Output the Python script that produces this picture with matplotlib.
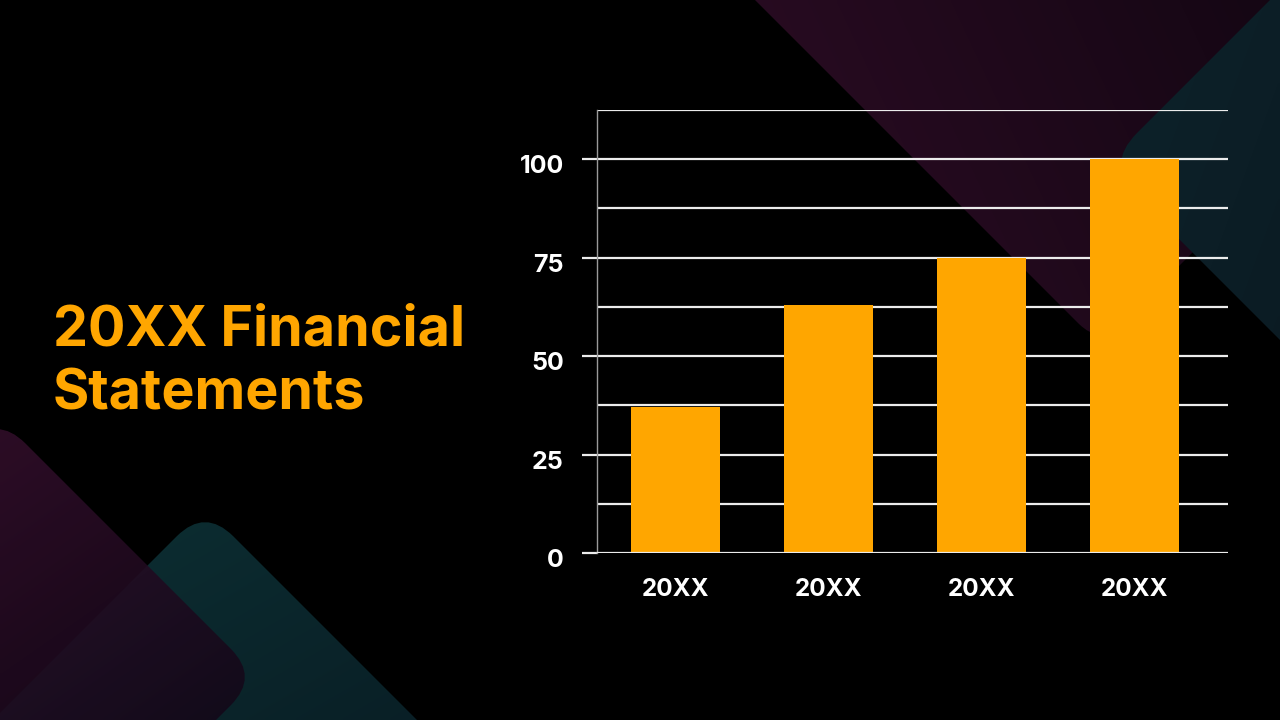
import numpy as np
import matplotlib
matplotlib.use("Agg")
import matplotlib.pyplot as plt
from matplotlib.patches import FancyBboxPatch
from matplotlib.transforms import Affine2D, ScaledTranslation

# data
years = ["20XX", "20XX", "20XX", "20XX"]
values = [37, 63, 75, 100]
yticks = [0, 25, 50, 75, 100]
title_lines = ["20XX Financial", "Statements"]

ORANGE = "#FFA600"
W, H = 1280, 720

plt.rcParams["font.family"] = ["Inter", "DejaVu Sans"]
plt.rcParams["font.weight"] = "bold"

fig = plt.figure(figsize=(12.8, 7.2), dpi=100, facecolor="black")

# background decorations
bg = fig.add_axes([0, 0, 1, 1], zorder=0)
bg.set_xlim(0, W)
bg.set_ylim(H, 0)
bg.axis("off")
bg.set_facecolor("black")


def diamond(ax, cx, cy, R, r, c1, c2, angle, alpha=1.0):
    s = R * np.sqrt(2)
    p = FancyBboxPatch((-s / 2, -s / 2), s, s,
                       boxstyle="round,pad=0,rounding_size=%f" % r,
                       fc="none", ec="none",
                       transform=Affine2D().rotate_deg(45).translate(cx, cy) + ax.transData)
    ax.add_patch(p)
    # linear gradient across the whole canvas, clipped to the shape
    xx, yy = np.meshgrid(np.linspace(0, W, 320), np.linspace(0, H, 180))
    a = np.deg2rad(angle)
    t = (xx - cx) * np.cos(a) + (yy - cy) * np.sin(a)
    t0 = -R
    t = np.clip((t - t0) / (2 * R), 0, 1)
    c1 = np.array(c1) / 255.0
    c2 = np.array(c2) / 255.0
    img = c1[None, None, :] * (1 - t[..., None]) + c2[None, None, :] * t[..., None]
    im = ax.imshow(img, extent=(0, W, H, 0), interpolation="bilinear",
                   alpha=alpha, zorder=1)
    im.set_clip_path(p)


# top-right shapes
diamond(bg, 1100, -175, 520, 30, (44, 12, 36), (4, 2, 8), -25)
diamond(bg, 1105 + 400, 165, 400, 45, (13, 34, 42), (8, 14, 22), 20)
# bottom-left shapes
diamond(bg, 205, 508 + 400, 400, 40, (12, 46, 50), (6, 12, 22), 60)
diamond(bg, 259 - 262, 677, 262, 40, (56, 16, 46), (12, 6, 20), 55, alpha=0.88)

# title
for i, line in enumerate(title_lines):
    fig.text(53 / W, 1 - (345 + i * 64) / H, line, color=ORANGE,
             fontsize=40, fontweight="bold", va="baseline", ha="left")

# chart
ax = fig.add_axes([597 / W, 1 - 553 / H, (1228 - 597) / W, (553 - 110) / H], zorder=2)
ax.set_facecolor("none")
x = np.arange(len(values))
ax.bar(x, values, width=0.58, color=ORANGE, zorder=3)
ax.set_xlim(-0.51, 3.61)
ax.set_ylim(0, 112.5)

for yv in np.arange(0, 112.6, 12.5):
    ax.axhline(yv, color="#ececec", lw=1.6, zorder=2 if yv > 0 else 4)

ax.set_yticks(yticks)
ax.set_yticklabels([str(v) for v in yticks])
ax.set_xticks(x)
ax.set_xticklabels(years)
ax.tick_params(axis="y", length=11, width=1.6, color="#ececec", pad=13,
               labelsize=18, labelcolor="white")
ax.tick_params(axis="x", length=0, pad=18, labelsize=17.5, labelcolor="white")
shift = ScaledTranslation(0, -5 / 100, fig.dpi_scale_trans)
for lab in ax.get_yticklabels():
    lab.set_transform(lab.get_transform() + shift)
for lab in ax.get_xticklabels() + ax.get_yticklabels():
    lab.set_fontweight("bold")

for side in ["top", "right", "bottom"]:
    ax.spines[side].set_visible(False)
ax.spines["left"].set_color("#9a9a9a")
ax.spines["left"].set_linewidth(1.0)

fig.savefig("out.png", dpi=100, facecolor="black")
